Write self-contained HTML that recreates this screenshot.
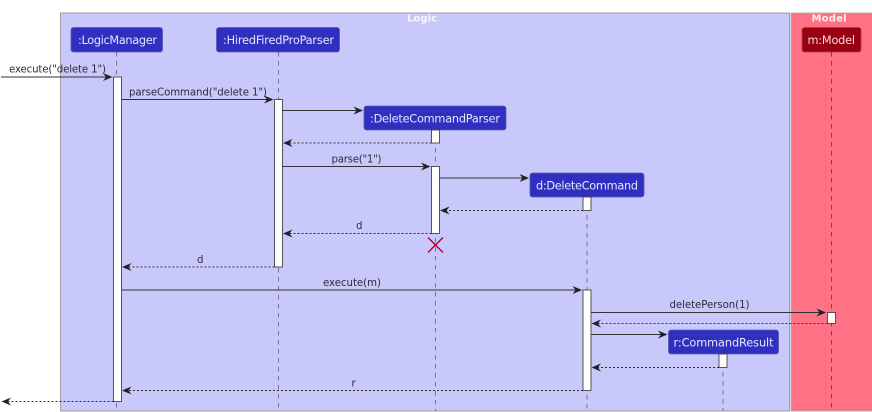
<!DOCTYPE html>
<html>
<head>
<meta charset="utf-8">
<style>
html,body{margin:0;padding:0;background:#fff;width:872px;height:412px;overflow:hidden}
svg{display:block;filter:blur(.3px)}
text{font-family:"DejaVu Sans",sans-serif}
.lbl{font-size:10.2px;fill:#2c2c3c}
.part{font-size:11.3px;fill:#e6e6ff}
.box{font-size:10px;font-weight:bold;fill:#fff;opacity:.85}
.life{stroke:#6a6a80;stroke-width:.9;stroke-dasharray:4.5 4.5;fill:none}
.act{fill:#fff;stroke:#444;stroke-width:.9}
.sol{stroke:#333;stroke-width:.9;fill:none}
.dot{stroke:#333;stroke-width:.9;stroke-dasharray:2 2;fill:none}
.ah{fill:#222}
</style>
</head>
<body>
<svg width="872" height="412" viewBox="0 0 872 412" xmlns="http://www.w3.org/2000/svg">
<rect x="0" y="0" width="872" height="412" fill="#fff"/>
<!-- boxes -->
<rect x="60.5" y="13" width="729" height="398" fill="#c8c8fa" stroke="#999" stroke-width=".9"/>
<rect x="791" y="13" width="82" height="398" fill="#ff7285" stroke="#aaa" stroke-width=".9"/>
<text class="box" x="422" y="21.500" text-anchor="middle" textLength="30">Logic</text>
<text class="box" x="829" y="21.500" text-anchor="middle" textLength="35">Model</text>
<!-- lifelines -->
<line class="life" x1="116.5" y1="52" x2="116.5" y2="411"/>
<line class="life" x1="278.5" y1="52" x2="278.5" y2="411"/>
<line class="life" x1="435.5" y1="130" x2="435.5" y2="411"/>
<line class="life" x1="587" y1="197" x2="587" y2="411"/>
<line class="life" x1="723" y1="354" x2="723" y2="411"/>
<line class="life" x1="831.5" y1="52" x2="831.5" y2="411" style="stroke:#8a3040"/>
<!-- participants -->
<rect x="71" y="27.5" width="91.5" height="24.5" rx="2.5" fill="#3030c0" stroke="#5a5ab0" stroke-width=".8"/>
<text class="part" x="78" y="44" textLength="79">:LogicManager</text>
<rect x="216.5" y="27.5" width="123" height="24.5" rx="2.5" fill="#3030c0" stroke="#5a5ab0" stroke-width=".8"/>
<text class="part" x="223" y="44" textLength="111">:HiredFiredProParser</text>
<rect x="364" y="106" width="142" height="24" rx="2.5" fill="#3030c0" stroke="#5a5ab0" stroke-width=".8"/>
<text class="part" x="370" y="122.500" textLength="130">:DeleteCommandParser</text>
<rect x="530" y="173" width="114" height="24" rx="2.5" fill="#3030c0" stroke="#5a5ab0" stroke-width=".8"/>
<text class="part" x="536" y="189.500" textLength="102">d:DeleteCommand</text>
<rect x="668.500" y="330" width="110" height="24" rx="2.5" fill="#3030c0" stroke="#5a5ab0" stroke-width=".8"/>
<text class="part" x="673.500" y="346.500" textLength="100">r:CommandResult</text>
<rect x="802" y="27.5" width="59" height="24.5" rx="2.5" fill="#990011" stroke="#a04050" stroke-width=".8"/>
<text class="part" x="807.500" y="44" textLength="47.500" style="fill:#f4dcdc">m:Model</text>
<!-- activations -->
<rect class="act" x="113.500" y="77" width="8" height="324.500"/>
<rect class="act" x="274.500" y="99.500" width="8" height="167.500"/>
<rect class="act" x="431.500" y="130" width="8" height="13"/>
<rect class="act" x="431.500" y="166.500" width="8" height="67"/>
<rect class="act" x="583" y="197" width="8" height="13.500"/>
<rect class="act" x="583" y="290" width="8" height="100.500"/>
<rect class="act" x="719" y="354" width="8" height="13.500"/>
<rect class="act" x="827.500" y="312.500" width="8" height="11"/>
<!-- messages -->
<line class="sol" x1="1" y1="77" x2="108" y2="77"/>
<path class="ah" d="M112.500 77 L103 73 L106 77 L103 81 Z"/>
<text class="lbl" x="9" y="72.500" textLength="97">execute("delete 1")</text>

<line class="sol" x1="121.500" y1="99.500" x2="269" y2="99.500"/>
<path class="ah" d="M273.500 99.500 L264 95.500 L267 99.500 L264 103.500 Z"/>
<text class="lbl" x="129" y="95.500" textLength="138">parseCommand("delete 1")</text>

<line class="sol" x1="282.500" y1="110.500" x2="358" y2="110.500"/>
<path class="ah" d="M363 110.500 L353.500 106.500 L356.500 110.500 L353.500 114.500 Z"/>

<line class="dot" x1="431.500" y1="143" x2="288" y2="143"/>
<path class="ah" d="M283 143 L292.500 139 L289.500 143 L292.500 147 Z"/>

<line class="sol" x1="282.500" y1="166.500" x2="425" y2="166.500"/>
<path class="ah" d="M430.500 166.500 L421 162.500 L424 166.500 L421 170.500 Z"/>
<text class="lbl" x="331.500" y="162.500" textLength="50">parse("1")</text>

<line class="sol" x1="439.500" y1="178" x2="524" y2="178"/>
<path class="ah" d="M529 178 L519.500 174 L522.500 178 L519.500 182 Z"/>

<line class="dot" x1="583" y1="210.500" x2="445" y2="210.500"/>
<path class="ah" d="M440 210.500 L449.500 206.500 L446.500 210.500 L449.500 214.500 Z"/>

<line class="dot" x1="431.500" y1="233.500" x2="288" y2="233.500"/>
<path class="ah" d="M283 233.500 L292.500 229.500 L289.500 233.500 L292.500 237.500 Z"/>
<text class="lbl" x="356" y="229">d</text>

<path d="M428 237.500 L443 252.500 M443 237.500 L428 252.500" stroke="#a80036" stroke-width="1.4" fill="none"/>

<line class="dot" x1="274.500" y1="267" x2="127" y2="267"/>
<path class="ah" d="M122 267 L131.500 263 L128.500 267 L131.500 271 Z"/>
<text class="lbl" x="197" y="263">d</text>

<line class="sol" x1="121.500" y1="290" x2="577" y2="290"/>
<path class="ah" d="M582 290 L572.500 286 L575.500 290 L572.500 294 Z"/>
<text class="lbl" x="323" y="286" textLength="58">execute(m)</text>

<line class="sol" x1="591" y1="312.500" x2="821" y2="312.500"/>
<path class="ah" d="M826 312.500 L816.500 308.500 L819.500 312.500 L816.500 316.500 Z"/>
<text class="lbl" x="669.500" y="308" textLength="80">deletePerson(1)</text>

<line class="dot" x1="827.500" y1="323.500" x2="597" y2="323.500"/>
<path class="ah" d="M591.500 323.500 L601 319.500 L598 323.500 L601 327.500 Z"/>

<line class="sol" x1="591" y1="334.500" x2="662" y2="334.500"/>
<path class="ah" d="M667.500 334.500 L658 330.500 L661 334.500 L658 338.500 Z"/>

<line class="dot" x1="719" y1="367.500" x2="597" y2="367.500"/>
<path class="ah" d="M591.500 367.500 L601 363.500 L598 367.500 L601 371.500 Z"/>

<line class="dot" x1="583" y1="390.500" x2="127" y2="390.500"/>
<path class="ah" d="M122 390.500 L131.500 386.500 L128.500 390.500 L131.500 394.500 Z"/>
<text class="lbl" x="351.500" y="386.500">r</text>

<line class="dot" x1="113.500" y1="401.500" x2="7" y2="401.500"/>
<path class="ah" d="M1.500 401.500 L11 397.500 L8 401.500 L11 405.500 Z"/>
</svg>
</body>
</html>
